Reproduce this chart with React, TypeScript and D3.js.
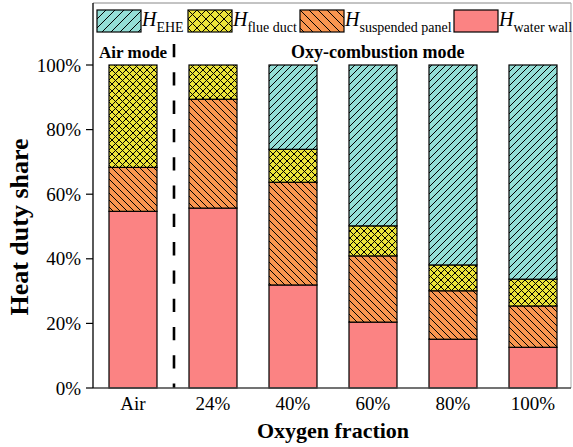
import React from "react";
import * as d3 from "d3";

const categories = ["Air", "24%", "40%", "60%", "80%", "100%"];
const waterWall = [54.7, 55.7, 31.9, 20.4, 15.1, 12.6];
const suspendedPanel = [13.6, 33.7, 31.8, 20.5, 15.0, 12.8];
const flueDuct = [31.7, 10.6, 10.2, 9.3, 8.0, 8.3];
const ehe = [0, 0, 26.1, 49.8, 61.9, 66.3];
const yTicks = [0, 20, 40, 60, 80, 100];

const seriesKeys = ["water", "suspended", "flue", "ehe"];
const seriesLabels: Record<string, string> = {
  ehe: "EHE",
  flue: "flue duct",
  suspended: "suspended panel",
  water: "water wall",
};
const legendOrder = ["ehe", "flue", "suspended", "water"];

const colors: Record<string, string> = {
  water: "#fb8383",
  suspended: "#f99650",
  flue: "#ece43a",
  ehe: "#94ded6",
};
const fills: Record<string, string> = {
  water: "#fb8383",
  suspended: "url(#hatch-back)",
  flue: "url(#hatch-cross)",
  ehe: "url(#hatch-fwd)",
};
const legendFills: Record<string, string> = {
  water: "#fb8383",
  suspended: "url(#lg-back)",
  flue: "url(#lg-cross)",
  ehe: "url(#lg-fwd)",
};

const W = 573;
const H = 447;
const FONT = "Liberation Serif, Times New Roman, DejaVu Serif, serif";

const rows = categories.map((c, i) => ({
  cat: c,
  water: waterWall[i],
  suspended: suspendedPanel[i],
  flue: flueDuct[i],
  ehe: ehe[i],
}));

function Hatch({ id, color, size, kind }: { id: string; color: string; size: number; kind: string }) {
  return (
    <pattern id={id} patternUnits="userSpaceOnUse" width={size} height={size}>
      <rect width={size} height={size} fill={color} />
      {(kind === "fwd" || kind === "cross") && (
        <path
          d={`M0,${size} L${size},0 M${-size / 2},${size / 2} L${size / 2},${-size / 2} M${size / 2},${size * 1.5} L${size * 1.5},${size / 2}`}
          stroke="#000"
          strokeWidth={1}
        />
      )}
      {(kind === "back" || kind === "cross") && (
        <path
          d={`M0,0 L${size},${size} M${-size / 2},${size / 2} L${size / 2},${size * 1.5} M${size / 2},${-size / 2} L${size * 1.5},${size / 2}`}
          stroke="#000"
          strokeWidth={1}
        />
      )}
    </pattern>
  );
}

export default function App() {
  const x = d3.scaleBand().domain(categories).range([93, 573]).paddingInner(0.4).paddingOuter(0.2);
  const y = d3.scaleLinear().domain([0, 100]).range([388, 65]);
  const stack = d3.stack<any>().keys(seriesKeys);
  const layers = stack(rows);

  const dashX = ((x("Air") as number) + x.bandwidth() + (x("24%") as number)) / 2 + 1;

  // legend swatch positions (left edges)
  const legendX = [97, 188, 300, 454];

  return (
    <svg
      width={W}
      height={H}
      style={{ position: "absolute", left: 0, top: 0, background: "#fff", fontFamily: FONT }}
    >
      <defs>
        <Hatch id="hatch-fwd" color={colors.ehe} size={7} kind="fwd" />
        <Hatch id="hatch-back" color={colors.suspended} size={7} kind="back" />
        <Hatch id="hatch-cross" color={colors.flue} size={7} kind="cross" />
        <Hatch id="lg-fwd" color={colors.ehe} size={9} kind="fwd" />
        <Hatch id="lg-back" color={colors.suspended} size={9} kind="back" />
        <Hatch id="lg-cross" color={colors.flue} size={9} kind="cross" />
      </defs>

      {/* frame */}
      <line x1={93} x2={571} y1={3} y2={3} stroke="#888" strokeWidth={1} />
      <line x1={571} x2={571} y1={3} y2={388} stroke="#aaa" strokeWidth={1} />

      {/* bars */}
      {layers.map((layer) => (
        <g key={layer.key}>
          {layer.map((d, i) =>
            d[1] - d[0] > 0 ? (
              <rect
                key={i}
                x={x(categories[i])}
                y={y(d[1])}
                width={x.bandwidth()}
                height={y(d[0]) - y(d[1])}
                fill={fills[layer.key]}
                stroke="#000"
                strokeWidth={1.2}
              />
            ) : null
          )}
        </g>
      ))}

      {/* mode divider */}
      <line x1={dashX} x2={dashX} y1={44} y2={388} stroke="#000" strokeWidth={2.6} strokeDasharray="13.3 15" />

      {/* axes */}
      <line x1={93} x2={571} y1={388} y2={388} stroke="#444" strokeWidth={1.5} />
      <line x1={93} x2={93} y1={3} y2={388} stroke="#000" strokeWidth={1.3} />
      {yTicks.map((t) => (
        <g key={t}>
          <line x1={86} x2={93} y1={y(t)} y2={y(t)} stroke="#000" strokeWidth={1.2} />
          <text x={81} y={y(t) + 6.5} textAnchor="end" fontSize={19}>
            {t}%
          </text>
        </g>
      ))}
      {categories.map((c) => (
        <text key={c} x={(x(c) as number) + x.bandwidth() / 2} y={410} textAnchor="middle" fontSize={19}>
          {c}
        </text>
      ))}

      <text x={333} y={438} textAnchor="middle" fontSize={22} fontWeight="bold">
        Oxygen fraction
      </text>
      <text transform={`translate(28,227) rotate(-90)`} textAnchor="middle" fontSize={26} fontWeight="bold">
        Heat duty share
      </text>

      {/* mode labels */}
      <text x={99} y={58} fontSize={17} fontWeight="bold">
        Air mode
      </text>
      <text x={291} y={58} fontSize={18} fontWeight="bold">
        Oxy-combustion mode
      </text>

      {/* legend */}
      {legendOrder.map((k, i) => (
        <g key={k} transform={`translate(${legendX[i]},10)`}>
          <rect width={44} height={22} fill={legendFills[k]} stroke="#000" strokeWidth={1.2} />
          <text x={45} y={16} fontSize={20}>
            <tspan fontStyle="italic">H</tspan>
            <tspan fontSize={14} dy={6}>
              {seriesLabels[k]}
            </tspan>
          </text>
        </g>
      ))}
    </svg>
  );
}
